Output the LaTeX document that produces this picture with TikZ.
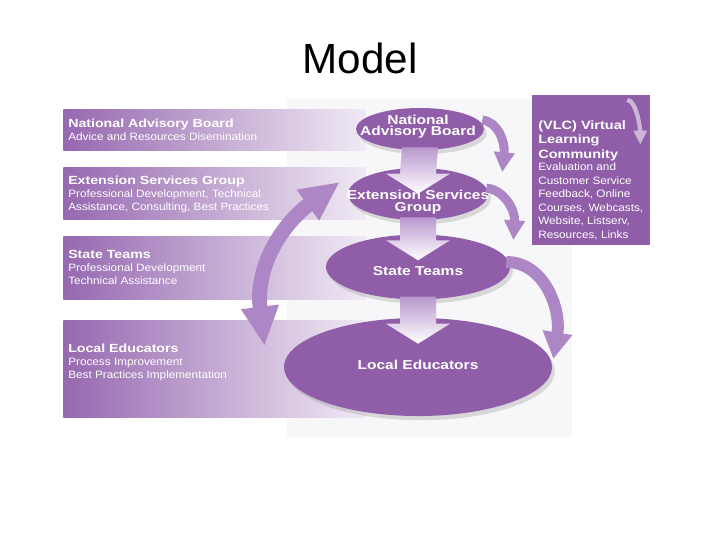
\documentclass[tikz,border=0pt]{standalone}
\usepackage{fontspec}
\setmainfont{Liberation Sans}
\newfontfamily\heavyfont[FakeStretch=1.2]{Liberation Sans}
\newfontfamily\widefont[FakeStretch=1.1]{Liberation Sans}
\usepackage{xcolor}
\usetikzlibrary{shapes.geometric,arrows.meta,calc,shadows}

\definecolor{ovalpurple}{RGB}{144,94,168}
\definecolor{bandleft}{RGB}{150,104,176}
\definecolor{bandright}{RGB}{240,234,244}
\definecolor{arcpurple}{RGB}{172,134,197}
\definecolor{panelgray}{RGB}{247,246,248}

\tikzset{
  band/.style={rectangle, anchor=north west, inner sep=0, minimum width=7.55cm, left color=bandleft, right color=bandright},
  oval/.style={ellipse, fill=ovalpurple, inner sep=0, drop shadow={opacity=0.25, shadow xshift=2pt, shadow yshift=-3pt}},
  ovaltext/.style={text=white, align=center, inner sep=0, font=\heavyfont\bfseries\fontsize{9.2}{8.2}\selectfont},
  bandtitle/.style={text=white, anchor=base west, inner sep=0, font=\heavyfont\bfseries\fontsize{8.4}{9}\selectfont},
  bandsub/.style={text=white, anchor=base west, inner sep=0, align=left, font=\widefont\fontsize{7.6}{9.2}\selectfont},
  blockdown/.style={top color=arcpurple!85, bottom color=white},
  sidearrow/.style={draw=arcpurple, line width=6.4pt, -{Triangle[length=14pt,width=14pt]}},
  looparrow/.style={draw=arcpurple, line width=10.6pt, {Triangle[length=28pt,width=25pt]}-{Triangle[length=28pt,width=25pt]}},
}

\begin{document}
\begin{tikzpicture}[x=0.025cm, y=-0.025cm]
    % Page and title:
    \fill[white] (0, 0) rectangle (720, 540);
    \useasboundingbox (0, 0) rectangle (720, 540);
    \node[font=\fontsize{30}{36}\selectfont, anchor=base] (title) at (360, 73) {Model};
    \fill[panelgray] (287, 98) rectangle (572, 437);

    % Bands on the left (a multi-line text sits on its last baseline):
    \node[band, minimum height=1.025cm] (band1) at (63, 109) {};
    \node[band, minimum height=1.3cm] (band2) at (63, 167) {};
    \node[band, minimum height=1.575cm] (band3) at (63, 236) {};
    \node[band, minimum height=2.425cm] (band4) at (63, 320) {};
    \node[bandtitle] (band1T) at (68, 127) {National Advisory Board};
    \node[bandsub] (band1S) at (68, 140) {Advice and Resources Disemination};
    \node[bandtitle] (band2T) at (68, 184) {Extension Services Group};
    \node[bandsub] (band2S) at (68, 210) {Professional Development, Technical\\Assistance, Consulting, Best Practices};
    \node[bandtitle] (band3T) at (68, 258) {State Teams};
    \node[bandsub] (band3S) at (68, 284) {Professional Development\\Technical Assistance};
    \node[bandtitle] (band4T) at (68, 352) {Local Educators};
    \node[bandsub] (band4S) at (68, 378) {Process Improvement\\Best Practices Implementation};

    % Ovals:
    \node[oval, minimum width=6.7cm, minimum height=2.45cm] (le) at (418, 367) {};
    \node[oval, minimum width=4.6cm, minimum height=1.62cm] (st) at (418, 267) {};
    \node[oval, minimum width=3.5cm, minimum height=1.3cm] (esg) at (418, 194) {};
    \node[oval, minimum width=3.2cm, minimum height=1.05cm] (nab) at (420, 129) {};

    % Block arrows down:
    \foreach \a/\b in {nab/esg, esg/st, st/le}
      \path[blockdown] ($(\a.south)+(-18,-3)$) -- ($(\b.north)+(-18,6)$) -- ($(\b.north)+(-32,6)$)
        -- ($(\b.north)+(0,26)$) -- ($(\b.north)+(32,6)$) -- ($(\b.north)+(18,6)$) -- ($(\a.south)+(18,-3)$) -- cycle;

    \node[ovaltext] (nabT) at (418, 126.5) {National\\Advisory Board};
    \node[ovaltext] (esgT) at (418, 202) {Extension Services\\Group};
    \node[ovaltext] (stT) at (418, 271) {State Teams};
    \node[ovaltext] (leT) at (418, 365) {Local Educators};

    % Curved arrows:
    \draw[sidearrow] ($(nab.east)+(-2,-9)$) .. controls +(16,2) and +(3,-30) .. ($(esg.east)+(14,-22)$);
    \draw[sidearrow] ($(esg.east)+(-2,-6)$) .. controls +(18,2) and +(2,-30) .. ($(st.east)+(3,-27)$);
    \draw[sidearrow, line width=8.5pt, -{Triangle[length=19pt,width=20pt]}] ($(st.east)+(-4,-5)$) .. controls +(38,0) and +(8,-50) .. ($(le.east)+(1,-8)$);
    \draw[looparrow] ($(le.west)+(-19,-21)$) .. controls +(-10,-82) and +(-55,40) .. ($(esg.west)+(-8,-12)$);

    % VLC box:
    \node[rectangle, fill=ovalpurple, minimum width=2.95cm, minimum height=3.75cm, inner sep=0] (vlc) at (591, 170) {};
    \draw[draw=ovalpurple!45!white, line width=3pt, -{Triangle[length=10pt,width=9pt]}] ($(vlc.north east)+(-23,5)$) .. controls +(10,2) and +(0,-14) .. ($(vlc.north east)+(-10,50)$);
    \node[bandtitle, align=left, font=\heavyfont\bfseries\fontsize{8.6}{10.3}\selectfont] (vlcT) at (538, 158) {(VLC) Virtual\\Learning\\Community};
    \node[bandsub, font=\widefont\fontsize{7.6}{9.6}\selectfont] (vlcS) at (538, 238) {Evaluation and\\Customer Service\\Feedback, Online\\Courses, Webcasts,\\Website, Listserv,\\Resources, Links};
\end{tikzpicture}
\end{document}
